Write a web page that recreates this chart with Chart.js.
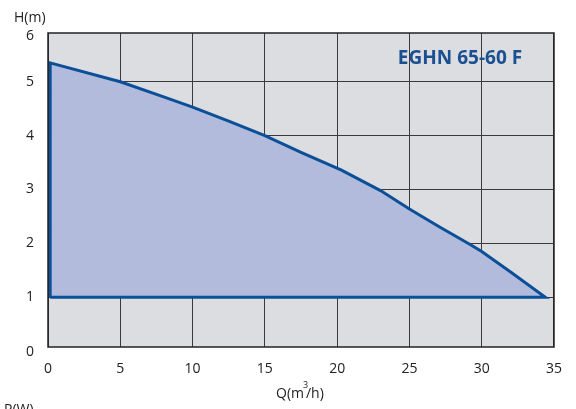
<!DOCTYPE html>
<html>
<head>
<meta charset="utf-8">
<script src="https://cdn.jsdelivr.net/npm/chart.js@4"></script>
<style>
  html, body { margin: 0; padding: 0; background: #fff; }
  #wrap { width: 576px; height: 409px; position: relative; }
</style>
</head>
<body>
<div id="wrap"><canvas id="c" width="576" height="409"></canvas></div>
<script>
  // pump curve EGHN 65-60 F
  const flowQ = [0.15, 0.15, 5, 8, 10, 12.5, 15, 17.5, 20.3, 23, 25, 27, 29.2, 30, 32, 34.4, 0.15];
  const headH = [1, 5.35, 5.0, 4.72, 4.53, 4.27, 4.0, 3.69, 3.36, 2.98, 2.64, 2.32, 1.98, 1.85, 1.47, 1.0, 1];
  const xTicks = [0, 5, 10, 15, 20, 25, 30, 35];
  const yTicks = [1, 2, 3, 4, 5];
  const yEdgeLabels = ['0', '6'];
  const modelName = 'EGHN 65-60 F';

  const pts = flowQ.map((q, i) => ({ x: q, y: headH[i] }));

  const FONT = '"Open Sans", "DejaVu Sans", sans-serif';

  // grey plot background, frame, extra labels
  const decor = {
    id: 'decor',
    beforeDraw(chart){
      const a = chart.chartArea, ctx = chart.ctx;
      ctx.save();
      ctx.fillStyle = '#dcdde0';
      ctx.fillRect(a.left, a.top, a.right - a.left, a.bottom - a.top);
      ctx.restore();
    },
    afterDraw(chart){
      const a = chart.chartArea, ctx = chart.ctx;
      ctx.save();
      ctx.strokeStyle = '#222';
      ctx.lineWidth = 1.5;
      ctx.strokeRect(a.left, a.top, a.right - a.left, a.bottom - a.top);

      ctx.fillStyle = '#222';
      ctx.font = '14px ' + FONT;
      ctx.textBaseline = 'middle';
      ctx.textAlign = 'right';
      ctx.fillText(yEdgeLabels[0], 34, 352);
      ctx.fillText(yEdgeLabels[1], 34, 36);

      ctx.textBaseline = 'alphabetic';
      ctx.textAlign = 'left';
      ctx.fillText('H(m)', 14, 22);
      ctx.fillText('P(W)', 4, 414);
      ctx.textAlign = 'center';
      ctx.fillText('Q(m', 290, 398);
      const w1 = ctx.measureText('Q(m').width;
      ctx.textAlign = 'left';
      ctx.font = '9px ' + FONT;
      ctx.fillText('3', 290 + w1 / 2 - 1, 388);
      ctx.font = '14px ' + FONT;
      ctx.fillText('/h)', 290 + w1 / 2 + 2, 398);

      ctx.fillStyle = '#1a4f91';
      ctx.font = 'bold 19px ' + FONT;
      ctx.textAlign = 'center';
      ctx.fillText(modelName, 460, 64);
      ctx.restore();
    }
  };

  new Chart(document.getElementById('c'), {
    type: 'scatter',
    data: {
      datasets: [{
        data: pts,
        showLine: true,
        fill: 'shape',
        backgroundColor: '#b2bbdc',
        borderColor: '#0b4f98',
        borderWidth: 3,
        pointRadius: 0,
        tension: 0
      }]
    },
    options: {
      responsive: false,
      animation: false,
      layout: { padding: { top: 33, right: 18, left: 0, bottom: 0 } },
      plugins: { legend: { display: false }, tooltip: { enabled: false } },
      scales: {
        x: {
          type: 'linear', min: 0, max: 35,
          afterBuildTicks(s){ s.ticks = xTicks.map(v => ({ value: v })); },
          afterFit(s){ s.height = 62; },
          grid: { color: '#3a3a3a', lineWidth: 1, drawTicks: false },
          border: { display: false },
          ticks: { color: '#222', padding: 14, font: { size: 14, family: FONT }, maxRotation: 0 }
        },
        y: {
          type: 'linear', min: 0.078, max: 5.904,
          afterBuildTicks(s){ s.ticks = yTicks.map(v => ({ value: v })); },
          afterFit(s){ s.width = 48; },
          grid: { color: '#3a3a3a', lineWidth: 1, drawTicks: false },
          border: { display: false },
          ticks: { color: '#222', padding: 14, font: { size: 14, family: FONT } }
        }
      }
    },
    plugins: [decor]
  });
</script>
</body>
</html>
